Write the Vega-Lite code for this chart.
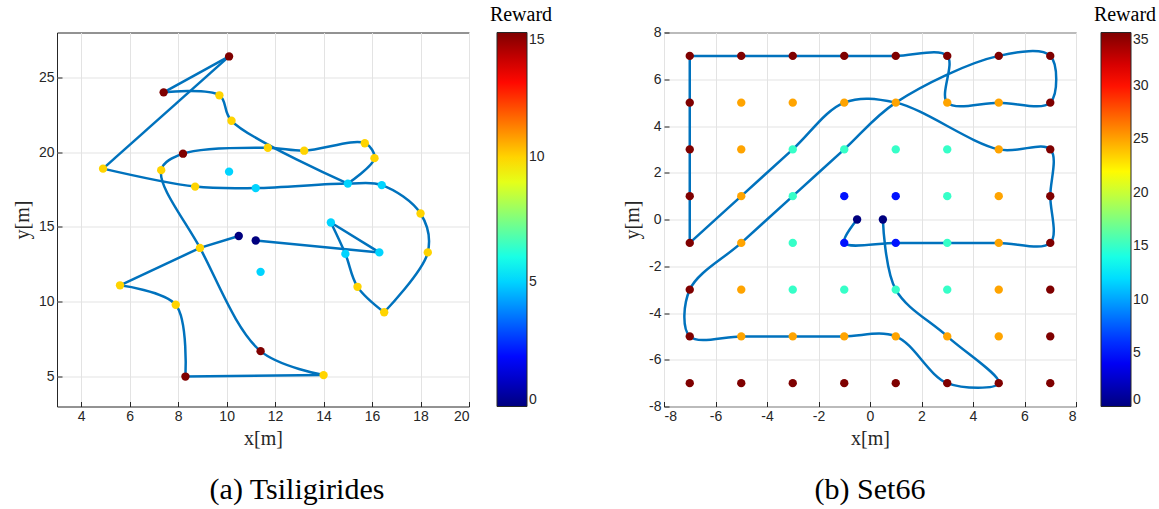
{
  "$schema": "https://vega.github.io/schema/vega-lite/v6.json",
  "autosize": {"type": "pad"},
  "padding": {"left": 11, "top": 3.5, "right": 0, "bottom": 0},
  "background": "white",
  "spacing": 68,
  "config": {
    "view": {"stroke": "#262626", "strokeWidth": 1},
    "axis": {
      "domain": false,
      "labelFont": "Liberation Sans", "labelFontSize": 14, "labelColor": "#262626",
      "titleFont": "Liberation Serif", "titleFontSize": 20, "titleFontWeight": "normal", "titleColor": "#262626",
      "gridColor": "#e3e3e3", "gridWidth": 1,
      "tickColor": "#262626", "tickSize": -5, "labelPadding": 8,
      "labelExpr": "'' + datum.value"
    },
    "axisX": {"titlePadding": 5},
    "axisY": {"titlePadding": 6},
    "legend": {
      "orient": "none", "direction": "vertical", "gradientLength": 374, "gradientThickness": 30,
      "titleFont": "Liberation Serif", "titleFontSize": 20, "titleFontWeight": "normal", "titleColor": "#000000",
      "titlePadding": 8, "titleAnchor": "middle",
      "labelFont": "Liberation Sans", "labelFontSize": 14, "labelColor": "#262626", "labelOffset": 5,
      "gradientStrokeColor": "#262626", "gradientStrokeWidth": 1
    },
    "title": {"font": "Liberation Serif", "fontSize": 30, "fontWeight": "normal", "color": "#000000", "orient": "bottom", "offset": 26}
  },
  "resolve": {"scale": {"color": "independent"}},
  "datasets": {
    "pts1": [
      {"x": 10.1, "y": 26.4, "r": 15}, {"x": 7.4, "y": 24.0, "r": 15}, {"x": 9.7, "y": 23.8, "r": 10},
      {"x": 10.2, "y": 22.1, "r": 10}, {"x": 11.7, "y": 20.3, "r": 10}, {"x": 13.2, "y": 20.1, "r": 10},
      {"x": 15.7, "y": 20.6, "r": 10}, {"x": 16.1, "y": 19.6, "r": 10}, {"x": 8.2, "y": 19.9, "r": 15},
      {"x": 4.9, "y": 18.9, "r": 10}, {"x": 7.3, "y": 18.8, "r": 10}, {"x": 10.1, "y": 18.7, "r": 5},
      {"x": 8.7, "y": 17.7, "r": 10}, {"x": 11.2, "y": 17.6, "r": 5}, {"x": 15.0, "y": 17.9, "r": 5},
      {"x": 16.4, "y": 17.8, "r": 5}, {"x": 18.0, "y": 15.9, "r": 10}, {"x": 18.3, "y": 13.3, "r": 10},
      {"x": 14.3, "y": 15.3, "r": 5}, {"x": 16.3, "y": 13.3, "r": 5}, {"x": 14.9, "y": 13.2, "r": 5},
      {"x": 15.4, "y": 11.0, "r": 10}, {"x": 16.5, "y": 9.3, "r": 10}, {"x": 10.5, "y": 14.4, "r": 0},
      {"x": 11.2, "y": 14.1, "r": 0}, {"x": 11.4, "y": 12.0, "r": 5}, {"x": 8.9, "y": 13.6, "r": 10},
      {"x": 5.6, "y": 11.1, "r": 10}, {"x": 7.9, "y": 9.8, "r": 10}, {"x": 11.4, "y": 6.7, "r": 15},
      {"x": 8.3, "y": 5.0, "r": 15}, {"x": 14.0, "y": 5.1, "r": 10}
    ],
    "path1": [
      {"i": 1, "seg": 1, "x": 10.5, "y": 14.4}, {"i": 2, "seg": 1, "x": 8.9, "y": 13.6},
      {"i": 3, "seg": 2, "x": 8.9, "y": 13.6}, {"i": 4, "seg": 2, "x": 5.6, "y": 11.1},
      {"i": 5, "seg": 3, "x": 5.6, "y": 11.1}, {"i": 6, "seg": 3, "x": 7.9, "y": 9.8}, {"i": 7, "seg": 3, "x": 8.3, "y": 5.0},
      {"i": 8, "seg": 4, "x": 8.3, "y": 5.0}, {"i": 9, "seg": 4, "x": 14.0, "y": 5.1},
      {"i": 10, "seg": 5, "x": 14.0, "y": 5.1}, {"i": 11, "seg": 5, "x": 11.4, "y": 6.7}, {"i": 12, "seg": 5, "x": 8.9, "y": 13.6},
      {"i": 13, "seg": 5, "x": 7.3, "y": 18.8}, {"i": 14, "seg": 5, "x": 8.2, "y": 19.9}, {"i": 15, "seg": 5, "x": 11.7, "y": 20.3},
      {"i": 16, "seg": 5, "x": 13.2, "y": 20.1}, {"i": 17, "seg": 5, "x": 15.7, "y": 20.6}, {"i": 18, "seg": 5, "x": 16.1, "y": 19.6},
      {"i": 19, "seg": 5, "x": 15.0, "y": 17.9},
      {"i": 20, "seg": 6, "x": 15.0, "y": 17.9}, {"i": 21, "seg": 6, "x": 10.2, "y": 22.1}, {"i": 22, "seg": 6, "x": 9.7, "y": 23.8},
      {"i": 23, "seg": 6, "x": 7.4, "y": 24.0},
      {"i": 24, "seg": 7, "x": 7.4, "y": 24.0}, {"i": 25, "seg": 7, "x": 10.1, "y": 26.4},
      {"i": 26, "seg": 8, "x": 10.1, "y": 26.4}, {"i": 27, "seg": 8, "x": 4.9, "y": 18.9},
      {"i": 28, "seg": 9, "x": 4.9, "y": 18.9}, {"i": 29, "seg": 9, "x": 8.7, "y": 17.7}, {"i": 30, "seg": 9, "x": 11.2, "y": 17.6},
      {"i": 31, "seg": 9, "x": 15.0, "y": 17.9}, {"i": 32, "seg": 9, "x": 16.4, "y": 17.8}, {"i": 33, "seg": 9, "x": 18.0, "y": 15.9},
      {"i": 34, "seg": 9, "x": 18.3, "y": 13.3}, {"i": 35, "seg": 9, "x": 16.5, "y": 9.3},
      {"i": 36, "seg": 10, "x": 16.5, "y": 9.3}, {"i": 37, "seg": 10, "x": 15.4, "y": 11.0}, {"i": 38, "seg": 10, "x": 14.9, "y": 13.2},
      {"i": 39, "seg": 10, "x": 14.3, "y": 15.3},
      {"i": 40, "seg": 11, "x": 14.3, "y": 15.3}, {"i": 41, "seg": 11, "x": 16.3, "y": 13.3},
      {"i": 42, "seg": 12, "x": 16.3, "y": 13.3}, {"i": 43, "seg": 12, "x": 11.2, "y": 14.1}
    ],
    "pts2": [
      {"x": -7, "y": 7, "r": 35}, {"x": -5, "y": 7, "r": 35}, {"x": -3, "y": 7, "r": 35}, {"x": -1, "y": 7, "r": 35},
      {"x": 1, "y": 7, "r": 35}, {"x": 3, "y": 7, "r": 35}, {"x": 5, "y": 7, "r": 35}, {"x": 7, "y": 7, "r": 35},
      {"x": -7, "y": 5, "r": 35}, {"x": -5, "y": 5, "r": 25}, {"x": -3, "y": 5, "r": 25}, {"x": -1, "y": 5, "r": 25},
      {"x": 1, "y": 5, "r": 25}, {"x": 3, "y": 5, "r": 25}, {"x": 5, "y": 5, "r": 25}, {"x": 7, "y": 5, "r": 35},
      {"x": -7, "y": 3, "r": 35}, {"x": -5, "y": 3, "r": 25}, {"x": -3, "y": 3, "r": 15}, {"x": -1, "y": 3, "r": 15},
      {"x": 1, "y": 3, "r": 15}, {"x": 3, "y": 3, "r": 15}, {"x": 5, "y": 3, "r": 25}, {"x": 7, "y": 3, "r": 35},
      {"x": -7, "y": 1, "r": 35}, {"x": -5, "y": 1, "r": 25}, {"x": -3, "y": 1, "r": 15}, {"x": -1, "y": 1, "r": 5},
      {"x": 1, "y": 1, "r": 5}, {"x": 3, "y": 1, "r": 15}, {"x": 5, "y": 1, "r": 25}, {"x": 7, "y": 1, "r": 35},
      {"x": -7, "y": -1, "r": 35}, {"x": -5, "y": -1, "r": 25}, {"x": -3, "y": -1, "r": 15}, {"x": -1, "y": -1, "r": 5},
      {"x": 1, "y": -1, "r": 5}, {"x": 3, "y": -1, "r": 15}, {"x": 5, "y": -1, "r": 25}, {"x": 7, "y": -1, "r": 35},
      {"x": -7, "y": -3, "r": 35}, {"x": -5, "y": -3, "r": 25}, {"x": -3, "y": -3, "r": 15}, {"x": -1, "y": -3, "r": 15},
      {"x": 1, "y": -3, "r": 15}, {"x": 3, "y": -3, "r": 15}, {"x": 5, "y": -3, "r": 25}, {"x": 7, "y": -3, "r": 35},
      {"x": -7, "y": -5, "r": 35}, {"x": -5, "y": -5, "r": 25}, {"x": -3, "y": -5, "r": 25}, {"x": -1, "y": -5, "r": 25},
      {"x": 1, "y": -5, "r": 25}, {"x": 3, "y": -5, "r": 25}, {"x": 5, "y": -5, "r": 25}, {"x": 7, "y": -5, "r": 35},
      {"x": -7, "y": -7, "r": 35}, {"x": -5, "y": -7, "r": 35}, {"x": -3, "y": -7, "r": 35}, {"x": -1, "y": -7, "r": 35},
      {"x": 1, "y": -7, "r": 35}, {"x": 3, "y": -7, "r": 35}, {"x": 5, "y": -7, "r": 35}, {"x": 7, "y": -7, "r": 35},
      {"x": -0.5, "y": 0, "r": 0}, {"x": 0.5, "y": 0, "r": 0}
    ],
    "path2": [
      {"i": 1, "seg": 1, "x": -0.5, "y": 0}, {"i": 2, "seg": 1, "x": -1, "y": -1}, {"i": 3, "seg": 1, "x": 1, "y": -1},
      {"i": 4, "seg": 1, "x": 3, "y": -1}, {"i": 5, "seg": 1, "x": 5, "y": -1}, {"i": 6, "seg": 1, "x": 7, "y": -1},
      {"i": 7, "seg": 1, "x": 7, "y": 1}, {"i": 8, "seg": 1, "x": 7, "y": 3}, {"i": 9, "seg": 1, "x": 5, "y": 3},
      {"i": 10, "seg": 1, "x": 1, "y": 5}, {"i": 11, "seg": 1, "x": -1, "y": 5}, {"i": 12, "seg": 1, "x": -3, "y": 3},
      {"i": 13, "seg": 1, "x": -5, "y": 1}, {"i": 14, "seg": 1, "x": -7, "y": -1},
      {"i": 15, "seg": 2, "x": -7, "y": -1}, {"i": 16, "seg": 2, "x": -7, "y": 1}, {"i": 17, "seg": 2, "x": -7, "y": 3},
      {"i": 18, "seg": 2, "x": -7, "y": 5}, {"i": 19, "seg": 2, "x": -7, "y": 7},
      {"i": 20, "seg": 3, "x": -7, "y": 7}, {"i": 21, "seg": 3, "x": -5, "y": 7}, {"i": 22, "seg": 3, "x": -3, "y": 7},
      {"i": 23, "seg": 3, "x": -1, "y": 7}, {"i": 24, "seg": 3, "x": 1, "y": 7}, {"i": 25, "seg": 3, "x": 3, "y": 7},
      {"i": 26, "seg": 3, "x": 3, "y": 5}, {"i": 27, "seg": 3, "x": 5, "y": 5}, {"i": 28, "seg": 3, "x": 7, "y": 5},
      {"i": 29, "seg": 3, "x": 7, "y": 7}, {"i": 30, "seg": 3, "x": 5, "y": 7}, {"i": 31, "seg": 3, "x": 1, "y": 5},
      {"i": 32, "seg": 3, "x": -1, "y": 3}, {"i": 33, "seg": 3, "x": -3, "y": 1}, {"i": 34, "seg": 3, "x": -5, "y": -1},
      {"i": 35, "seg": 3, "x": -7, "y": -3}, {"i": 36, "seg": 3, "x": -7, "y": -5}, {"i": 37, "seg": 3, "x": -5, "y": -5},
      {"i": 38, "seg": 3, "x": -3, "y": -5}, {"i": 39, "seg": 3, "x": -1, "y": -5}, {"i": 40, "seg": 3, "x": 1, "y": -5},
      {"i": 41, "seg": 3, "x": 3, "y": -7}, {"i": 42, "seg": 3, "x": 5, "y": -7}, {"i": 43, "seg": 3, "x": 3, "y": -5},
      {"i": 44, "seg": 3, "x": 1, "y": -3}, {"i": 45, "seg": 3, "x": 0.5, "y": 0}
    ]
  },
  "hconcat": [
    {
      "width": 412, "height": 374,
      "title": {"text": "(a) Tsiligirides", "dx": 34},
      "layer": [
        {
          "data": {"name": "path1"},
          "mark": {"type": "line", "interpolate": "catmull-rom", "color": "#0072bd", "strokeWidth": 2.5},
          "encoding": {
            "x": {"field": "x", "type": "quantitative", "scale": {"domain": [3, 20], "nice": false, "zero": false},
                  "axis": {"title": "x[m]", "values": [4, 6, 8, 10, 12, 14, 16, 18, 20]}},
            "y": {"field": "y", "type": "quantitative", "scale": {"domain": [3, 28], "nice": false, "zero": false},
                  "axis": {"title": "y[m]", "values": [5, 10, 15, 20, 25]}},
            "detail": {"field": "seg", "type": "nominal"},
            "order": {"field": "i", "type": "quantitative"}
          }
        },
        {
          "data": {"name": "pts1"},
          "mark": {"type": "point", "filled": true, "size": 70, "opacity": 1, "strokeWidth": 0},
          "encoding": {
            "x": {"field": "x", "type": "quantitative"},
            "y": {"field": "y", "type": "quantitative"},
            "color": {"field": "r", "type": "quantitative",
              "scale": {"domain": [0, 1.875, 3.75, 5.625, 7.5, 9.375, 11.25, 13.125, 15],
                        "range": ["#00007f", "#0000ff", "#007fff", "#00ffff", "#7fff7f", "#ffff00", "#ff7f00", "#ff0000", "#7f0000"],
                        "interpolate": "rgb"},
              "legend": {"title": "Reward", "legendX": 433, "legendY": -28, "values": [0, 5, 10, 15]}}
          }
        }
      ]
    },
    {
      "width": 412, "height": 374,
      "title": {"text": "(b) Set66", "dx": 0},
      "layer": [
        {
          "data": {"name": "path2"},
          "mark": {"type": "line", "interpolate": "catmull-rom", "color": "#0072bd", "strokeWidth": 2.5},
          "encoding": {
            "x": {"field": "x", "type": "quantitative", "scale": {"domain": [-8, 8], "nice": false, "zero": false},
                  "axis": {"title": "x[m]", "values": [-8, -6, -4, -2, 0, 2, 4, 6, 8]}},
            "y": {"field": "y", "type": "quantitative", "scale": {"domain": [-8, 8], "nice": false, "zero": false},
                  "axis": {"title": "y[m]", "values": [-8, -6, -4, -2, 0, 2, 4, 6, 8]}},
            "detail": {"field": "seg", "type": "nominal"},
            "order": {"field": "i", "type": "quantitative"}
          }
        },
        {
          "data": {"name": "pts2"},
          "mark": {"type": "point", "filled": true, "size": 70, "opacity": 1, "strokeWidth": 0},
          "encoding": {
            "x": {"field": "x", "type": "quantitative"},
            "y": {"field": "y", "type": "quantitative"},
            "color": {"field": "r", "type": "quantitative",
              "scale": {"domain": [0, 4.375, 8.75, 13.125, 17.5, 21.875, 26.25, 30.625, 35],
                        "range": ["#00007f", "#0000ff", "#007fff", "#00ffff", "#7fff7f", "#ffff00", "#ff7f00", "#ff0000", "#7f0000"],
                        "interpolate": "rgb"},
              "legend": {"title": "Reward", "legendX": 430, "legendY": -28, "values": [0, 5, 10, 15, 20, 25, 30, 35]}}
          }
        }
      ]
    }
  ]
}
